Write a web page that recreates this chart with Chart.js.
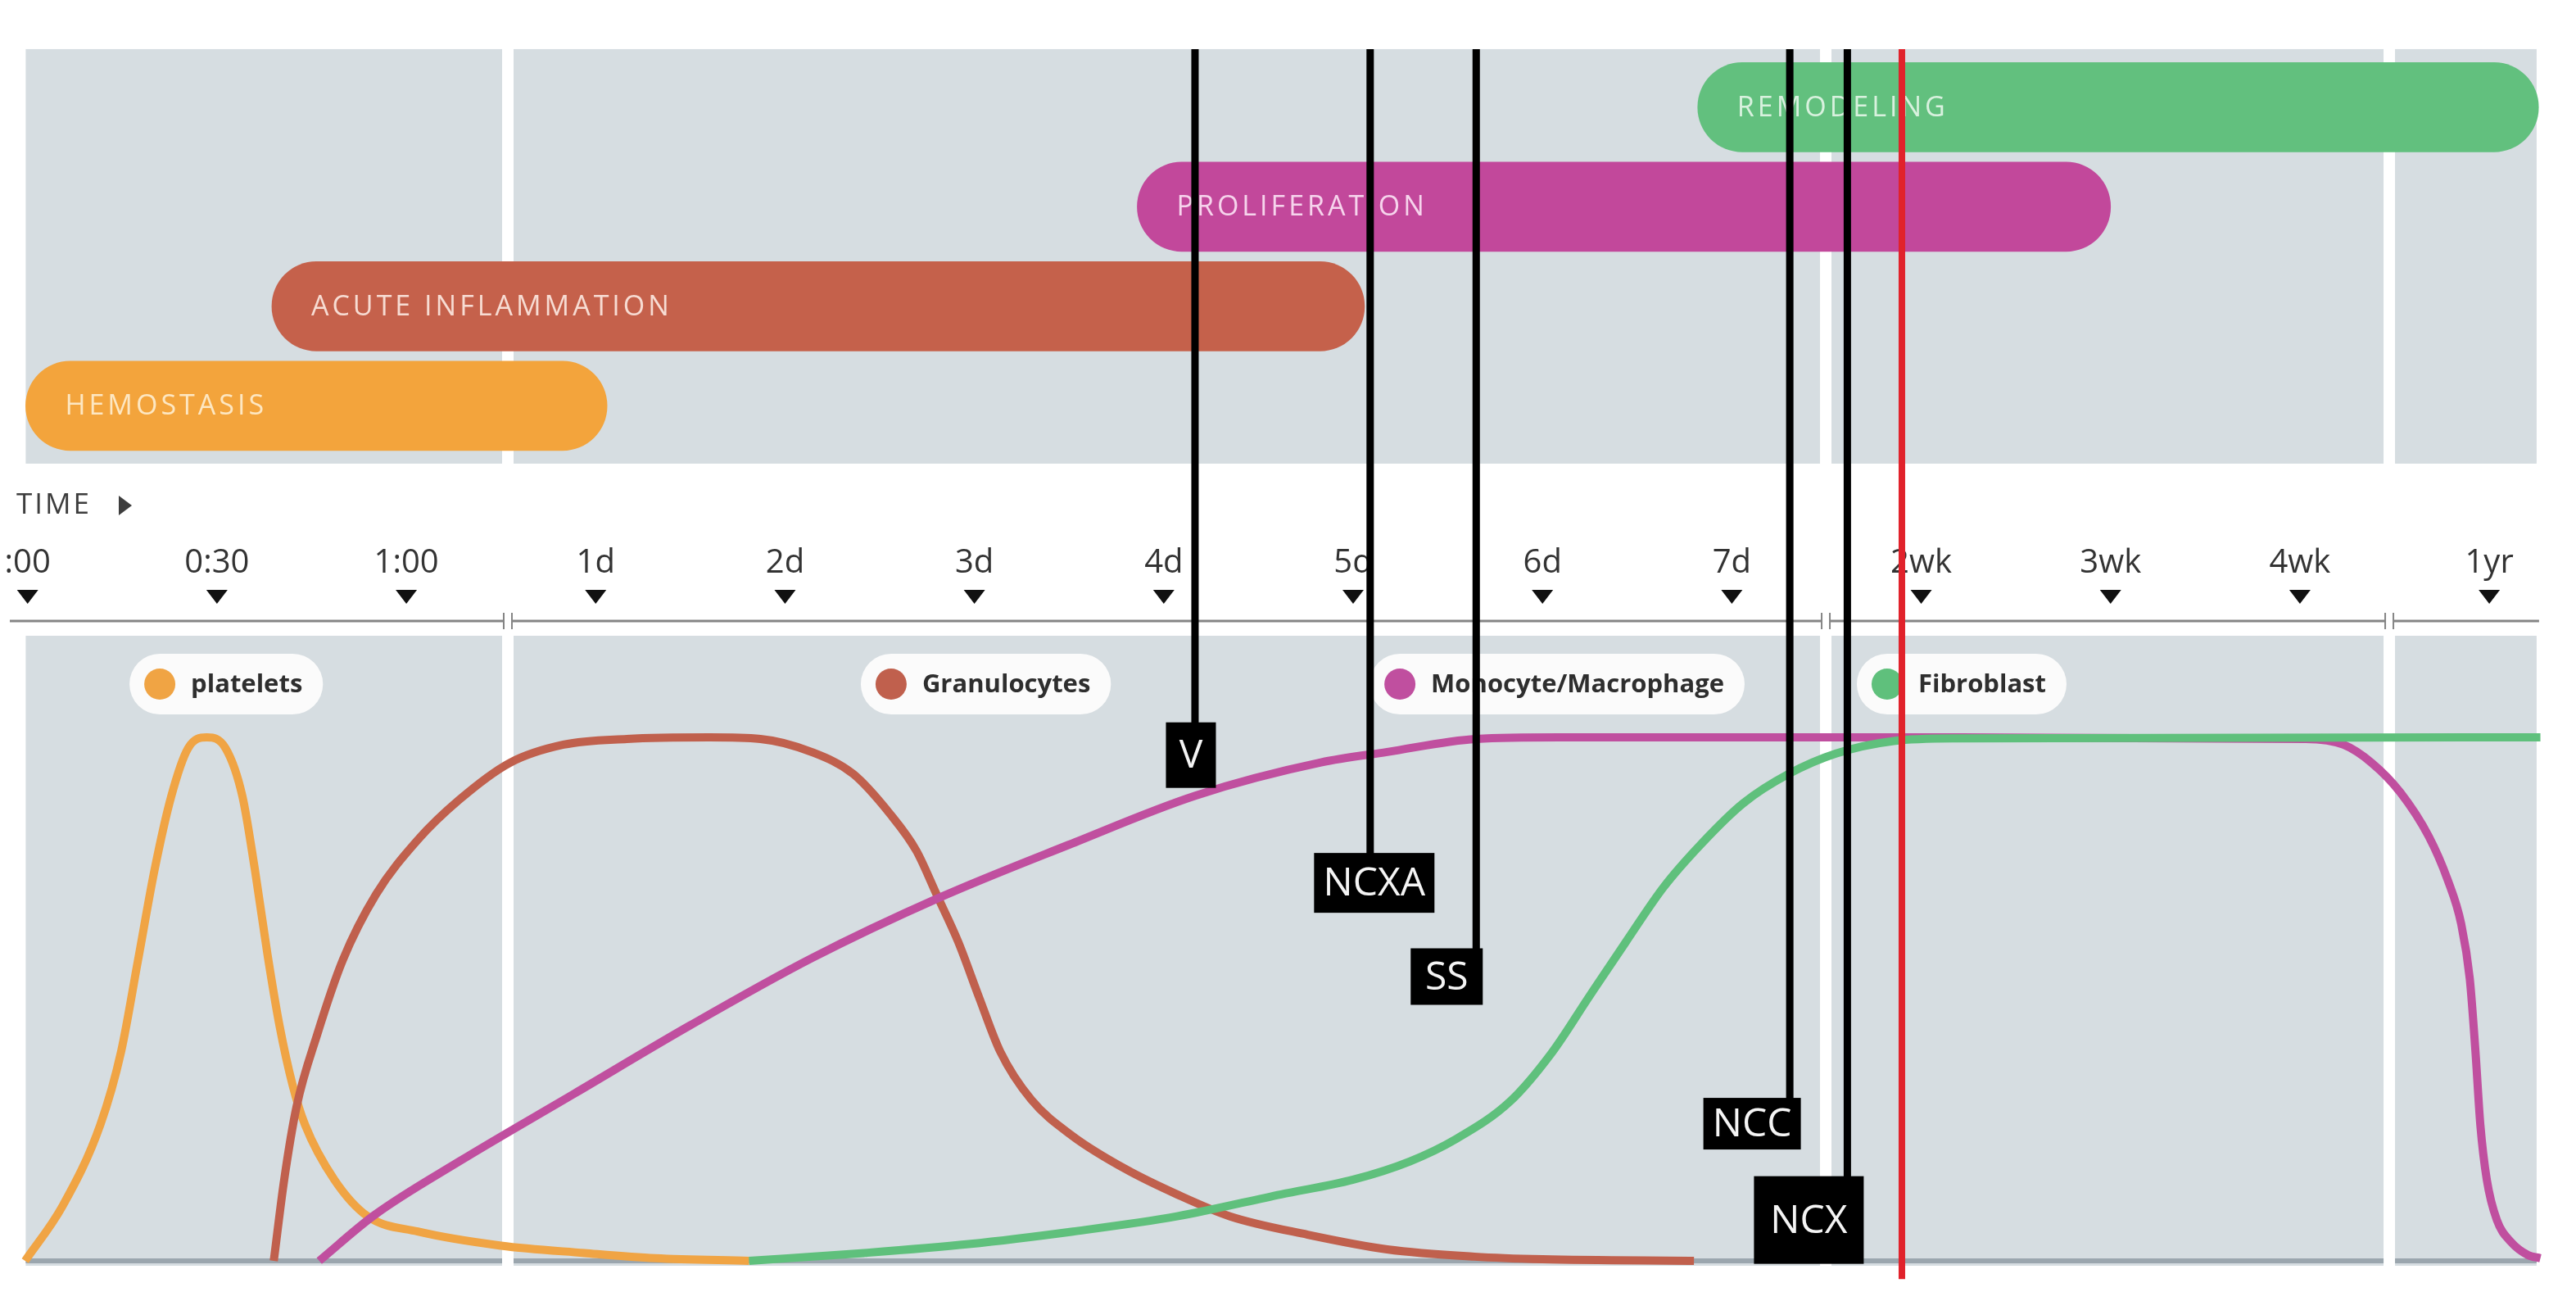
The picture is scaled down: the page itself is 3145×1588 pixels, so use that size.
<!DOCTYPE html>
<html>
<head>
<meta charset="utf-8">
<title>Wound healing timeline</title>
<script src="https://cdn.jsdelivr.net/npm/chart.js@4.4.1/dist/chart.umd.min.js"></script>
<style>
  html, body { margin: 0; padding: 0; background: #fff; }
  #wrap { width: 3145px; height: 1588px; }
</style>
</head>
<body>
<div id="wrap"><canvas id="timeline" width="3145" height="1588"></canvas></div>
<script>
// time axis, one tick per step
const tickLabels = [':00', '0:30', '1:00', '1d', '2d', '3d', '4d', '5d', '6d', '7d', '2wk', '3wk', '4wk', '1yr'];

// healing phases, start/end in tick units
const phaseNames = ['HEMOSTASIS', 'ACUTE INFLAMMATION', 'PROLIFERATION', 'REMODELING'];
const phaseStart = [-0.01, 1.29, 5.86, 8.82];
const phaseEnd = [3.06, 7.06, 11.0, 13.26];

// cell populations, relative level 0..1
const plateletsX = [-0.013, 0.185, 0.384, 0.494, 0.583, 0.671, 0.759, 0.847, 0.946, 1.046, 1.134, 1.20, 1.267, 1.33, 1.40, 1.465, 1.62, 1.796, 2.06, 2.50, 2.94, 3.315, 3.81];
const plateletsY = [0, 0.105, 0.26, 0.40, 0.574, 0.748, 0.888, 0.979, 1.0, 0.979, 0.888, 0.748, 0.585, 0.45, 0.335, 0.26, 0.155, 0.085, 0.056, 0.029, 0.015, 0.005, 0];

const granX = [1.30, 1.355, 1.42, 1.53, 1.664, 1.84, 2.06, 2.28, 2.545, 2.83, 3.165, 3.60, 3.87, 4.14, 4.36, 4.556, 4.694, 4.80, 4.915, 5.024, 5.136, 5.30, 5.52, 5.80, 6.07, 6.35, 6.76, 7.18, 7.64, 8.0, 8.8];
const granY = [0, 0.155, 0.294, 0.433, 0.574, 0.70, 0.804, 0.881, 0.951, 0.986, 0.997, 1.0, 0.997, 0.972, 0.93, 0.853, 0.783, 0.70, 0.609, 0.504, 0.40, 0.308, 0.238, 0.175, 0.127, 0.085, 0.05, 0.022, 0.008, 0.003, 0];

const monoX = [1.54, 1.83, 2.28, 2.89, 3.50, 4.14, 4.81, 5.50, 6.17, 6.83, 7.18, 7.65, 8.09, 10.0, 12.03, 12.23, 12.38, 12.53, 12.68, 12.78, 12.852, 12.897, 12.927, 12.953, 12.987, 13.04, 13.115, 13.205, 13.27];
const monoY = [0, 0.087, 0.19, 0.32, 0.45, 0.578, 0.693, 0.795, 0.889, 0.952, 0.972, 0.997, 1.0, 1.0, 0.997, 0.986, 0.951, 0.895, 0.811, 0.728, 0.643, 0.539, 0.40, 0.259, 0.155, 0.078, 0.036, 0.011, 0.005];

const fibroX = [3.81, 4.418, 4.97, 5.52, 6.07, 6.62, 7.0, 7.3, 7.54, 7.83, 8.05, 8.245, 8.44, 8.64, 8.84, 9.06, 9.30, 9.55, 9.855, 10.19, 13.27];
const fibroY = [0, 0.015, 0.032, 0.056, 0.085, 0.127, 0.155, 0.19, 0.232, 0.305, 0.398, 0.504, 0.609, 0.714, 0.797, 0.874, 0.93, 0.969, 0.993, 0.998, 1.0];

// vertical markers
const markerNames = ['V', 'NCXA', 'SS', 'NCC', 'NCX'];
const markerX = [6.165, 7.09, 7.65, 9.306, 9.61];
const markerLabelY = [0.966, 0.722, 0.543, 0.262, 0.078];
const redLineX = 9.898;

// ---- styling ----
const FONT = "'Open Sans', 'Noto Sans', sans-serif";
const AXIS_Y = 758;
const phaseColors = ['#f3a43c', '#c5614b', '#c2489b', '#62c07e'];
const phaseTextColors = ['#fde7c2', '#f7dcd3', '#f6d4ec', '#d8f1de'];
const curveColors = { platelets: '#f0a444', gran: '#c0604d', mono: '#c04f9f', fibro: '#5fc07c' };
const PANEL = '#d6dde1';
const gapsX = [2.536, 9.496, 12.472];
const legendItems = [
  { text: 'platelets', color: curveColors.platelets, at: 0.538 },
  { text: 'Granulocytes', color: curveColors.gran, at: 4.40 },
  { text: 'Monocyte/Macrophage', color: curveColors.mono, at: 7.087 },
  { text: 'Fibroblast', color: curveColors.fibro, at: 9.66 }
];
const markerBoxes = [
  { w: 61, h: 80, dx: -5 },
  { w: 147, h: 73, dx: 5 },
  { w: 88, h: 69, dx: -36 },
  { w: 119, h: 63, dx: -46 },
  { w: 134, h: 107, dx: -47 }
];

const toPoints = (xs, ys) => xs.map((x, i) => ({ x: x, y: ys[i] }));

function pill(ctx, x, y, w, h, r) {
  ctx.beginPath();
  ctx.moveTo(x + r, y);
  ctx.arcTo(x + w, y, x + w, y + h, r);
  ctx.arcTo(x + w, y + h, x, y + h, r);
  ctx.arcTo(x, y + h, x, y, r);
  ctx.arcTo(x, y, x + w, y, r);
  ctx.closePath();
}

// grey panels split by white gaps
function panelRow(ctx, x, top, bottom) {
  const left = x.getPixelForValue(-0.01), right = x.getPixelForValue(13.25);
  const edges = [left];
  gapsX.forEach(g => { const p = x.getPixelForValue(g); edges.push(p - 7, p + 7); });
  edges.push(right);
  ctx.fillStyle = PANEL;
  for (let i = 0; i < edges.length; i += 2) {
    ctx.fillRect(edges[i], top, edges[i + 1] - edges[i], bottom - top);
  }
  return edges;
}

const decor = {
  id: 'decor',
  beforeDraw(chart) {
    const { ctx, scales: { x, y, yPhase } } = chart;
    ctx.save();
    ctx.fillStyle = '#fff';
    ctx.fillRect(0, 0, chart.width, chart.height);

    panelRow(ctx, x, yPhase.getPixelForValue(3.584), yPhase.getPixelForValue(-0.58));
    const bTop = y.getPixelForValue(1.194), bBot = y.getPixelForValue(-0.0094);
    const edges = panelRow(ctx, x, bTop, bBot);
    // baseline strip
    ctx.fillStyle = '#9ba6ae';
    const base = y.getPixelForValue(0);
    for (let i = 0; i < edges.length; i += 2) {
      ctx.fillRect(edges[i], base - 3, edges[i + 1] - edges[i], 6);
    }

    // time axis line with break marks
    const ay = chart.chartArea.top;
    ctx.strokeStyle = '#858585';
    ctx.lineWidth = 3;
    ctx.beginPath();
    ctx.moveTo(x.getPixelForValue(-0.094), ay);
    ctx.lineTo(x.getPixelForValue(13.263), ay);
    ctx.stroke();
    gapsX.forEach(g => {
      const p = x.getPixelForValue(g);
      ctx.fillStyle = '#fff';
      ctx.fillRect(p - 5, ay - 6, 10, 12);
      ctx.lineWidth = 2;
      ctx.beginPath();
      ctx.moveTo(p - 5, ay - 10); ctx.lineTo(p - 5, ay + 10);
      ctx.moveTo(p + 5, ay - 10); ctx.lineTo(p + 5, ay + 10);
      ctx.stroke();
    });

    // tick triangles
    ctx.fillStyle = '#111';
    tickLabels.forEach((_, i) => {
      const p = x.getPixelForValue(i);
      ctx.beginPath();
      ctx.moveTo(p - 13, ay - 38);
      ctx.lineTo(p + 13, ay - 38);
      ctx.lineTo(p, ay - 21);
      ctx.closePath();
      ctx.fill();
    });

    // TIME label
    ctx.fillStyle = '#3d3d3d';
    ctx.font = '35px ' + FONT;
    ctx.letterSpacing = '3px';
    ctx.textBaseline = 'middle';
    ctx.textAlign = 'left';
    ctx.fillText('TIME', 20, ay - 141);
    ctx.letterSpacing = '0px';
    ctx.beginPath();
    ctx.moveTo(145, ay - 153);
    ctx.lineTo(161, ay - 141);
    ctx.lineTo(145, ay - 129);
    ctx.closePath();
    ctx.fill();
    ctx.restore();
  },
  afterDatasetsDraw(chart) {
    const { ctx, scales: { x, y, yPhase } } = chart;
    ctx.save();
    // phase names on bars
    ctx.font = '34px ' + FONT;
    ctx.letterSpacing = '4px';
    ctx.textBaseline = 'middle';
    ctx.textAlign = 'left';
    phaseNames.forEach((n, i) => {
      ctx.fillStyle = phaseTextColors[i];
      ctx.fillText(n, x.getPixelForValue(phaseStart[i]) + 48, yPhase.getPixelForValue(i) + 1);
    });
    ctx.letterSpacing = '0px';

    // legend pills
    const ly = y.getPixelForValue(1.1017);
    ctx.font = 'bold 31px ' + FONT;
    legendItems.forEach(it => {
      const left = x.getPixelForValue(it.at);
      const tw = ctx.measureText(it.text).width;
      ctx.fillStyle = '#fbfbfb';
      pill(ctx, left, ly - 37, tw + 100, 74, 37);
      ctx.fill();
      ctx.fillStyle = it.color;
      ctx.beginPath();
      ctx.arc(left + 37, ly, 19, 0, Math.PI * 2);
      ctx.fill();
      ctx.fillStyle = '#2e2e2e';
      ctx.fillText(it.text, left + 75, ly + 1);
    });
    ctx.restore();
  },
  afterDraw(chart) {
    const { ctx, scales: { x, y, yPhase } } = chart;
    const top = yPhase.getPixelForValue(3.584);
    ctx.save();
    // black marker lines with tags
    markerNames.forEach((name, i) => {
      const px = x.getPixelForValue(markerX[i]);
      const py = y.getPixelForValue(markerLabelY[i]);
      const b = markerBoxes[i];
      ctx.strokeStyle = '#000';
      ctx.lineWidth = 9;
      ctx.beginPath();
      ctx.moveTo(px, top);
      ctx.lineTo(px, py);
      ctx.stroke();
      ctx.fillStyle = '#000';
      ctx.fillRect(px + b.dx - b.w / 2, py - b.h / 2, b.w, b.h);
      ctx.fillStyle = '#f4f4f4';
      ctx.font = '48px ' + FONT;
      ctx.textAlign = 'center';
      ctx.textBaseline = 'middle';
      ctx.fillText(name, px + b.dx, py + 2);
    });
    // red marker
    const rx = x.getPixelForValue(redLineX);
    ctx.strokeStyle = '#e1222b';
    ctx.lineWidth = 8;
    ctx.beginPath();
    ctx.moveTo(rx, top);
    ctx.lineTo(rx, y.getPixelForValue(-0.035));
    ctx.stroke();
    ctx.restore();
  }
};

const lineSet = (label, xs, ys, color, order) => ({
  type: 'line',
  label: label,
  data: toPoints(xs, ys),
  xAxisID: 'x',
  yAxisID: 'y',
  borderColor: color,
  borderWidth: 10,
  pointRadius: 0,
  fill: false,
  cubicInterpolationMode: 'monotone',
  order: order
});

new Chart(document.getElementById('timeline'), {
  type: 'line',
  data: {
    datasets: [
      {
        type: 'bar',
        label: 'phases',
        indexAxis: 'y',
        xAxisID: 'x',
        yAxisID: 'yPhase',
        data: phaseNames.map((n, i) => ({ y: i, x: [phaseStart[i], phaseEnd[i]] })),
        backgroundColor: phaseColors,
        borderWidth: 0,
        borderRadius: 55,
        borderSkipped: false,
        barThickness: 109,
        clip: false,
        order: 10
      },
      lineSet('Fibroblast', fibroX, fibroY, curveColors.fibro, 0),
      lineSet('Monocyte/Macrophage', monoX, monoY, curveColors.mono, 1),
      lineSet('Granulocytes', granX, granY, curveColors.gran, 2),
      lineSet('platelets', plateletsX, plateletsY, curveColors.platelets, 3)
    ]
  },
  options: {
    responsive: false,
    devicePixelRatio: 1,
    animation: false,
    layout: { padding: 0 },
    plugins: { legend: { display: false }, tooltip: { enabled: false } },
    scales: {
      x: {
        type: 'linear',
        position: 'top',
        min: -0.1458,
        max: 13.458,
        offset: false,
        beginAtZero: false,
        grid: { display: false, drawTicks: false },
        border: { display: false },
        afterBuildTicks: s => { s.ticks = tickLabels.map((_, i) => ({ value: i })); },
        afterFit: s => { s.height = AXIS_Y; s.paddingLeft = 0; s.paddingRight = 0; },
        ticks: {
          autoSkip: false,
          maxRotation: 0,
          padding: 46,
          color: '#333',
          font: { family: FONT, size: 40 },
          callback: v => tickLabels[v]
        }
      },
      y: { type: 'linear', axis: 'y', display: false, offset: false, min: -0.0767, max: 1.2222 },
      yPhase: { type: 'linear', axis: 'y', display: false, offset: false, beginAtZero: false, min: -8.992, max: -2.161 }
    }
  },
  plugins: [decor]
});
</script>
</body>
</html>
